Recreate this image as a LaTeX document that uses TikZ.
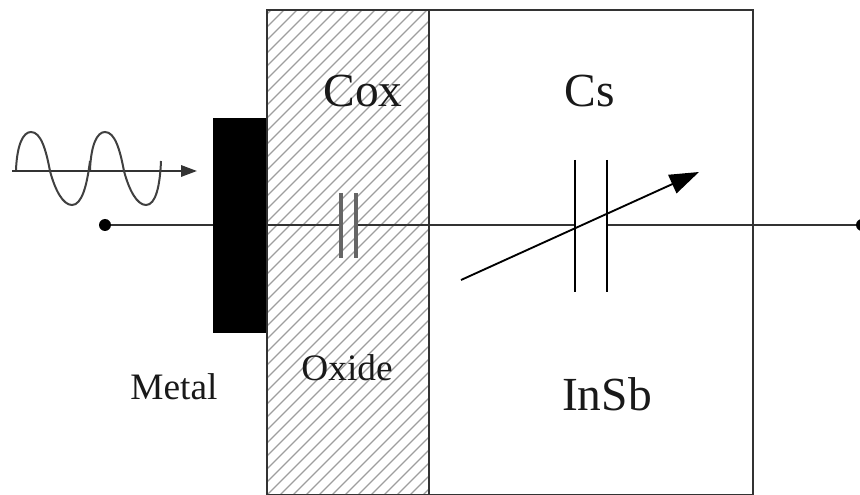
\documentclass[tikz,border=0pt]{standalone}
\usepackage{fontspec}
\setmainfont{Liberation Serif}
\usetikzlibrary{arrows.meta}
\tikzset{
  wire/.style={line width=1.6pt,draw=black!80},
  border/.style={line width=1.4pt,draw=black!80},
  plate/.style={line width=1.3pt,draw=black},
  oxplate/.style={line width=2.8pt,draw=black!60},
  dotn/.style={circle,fill=black,inner sep=0pt,minimum size=9pt},
  big/.style={anchor=base,inner sep=0pt,text=black!90,font=\fontsize{35.6}{40}\selectfont},
  small/.style={anchor=base,inner sep=0pt,text=black!90,font=\fontsize{28}{32}\selectfont},
  hatch/.style={line width=1pt,draw=black!38},
}
\begin{document}
\begin{tikzpicture}[x=0.75pt,y=-0.75pt]
\useasboundingbox (0,0) rectangle (860,495);
% coordinates
\coordinate (tl) at (267,10); \coordinate (tm) at (429,10); \coordinate (tr) at (753,10);
\coordinate (bl) at (267,495); \coordinate (bm) at (429,495); \coordinate (br) at (753,495);
% hatching
\begin{scope}
\clip (tl) rectangle (bm);
\foreach \i in {0,...,56} {
  \draw[hatch] (-250+13*\i,505) -- ++(520,-520);
}
\end{scope}
% terminals
\node[dotn] (dl) at (105,225) {};
\node[dotn] (dr) at (862,225) {};
% capacitor Cox
\coordinate (ca) at (341,225); \coordinate (cb) at (356,225);
\coordinate (sa) at (575,225); \coordinate (sb) at (607,225);
\draw[wire] (dl) -- (ca);
\draw[wire] (cb) -- (sa);
\draw[wire] (sb) -- (dr);
% metal
\fill[black] (213,118) rectangle (267,333);
% boxes
\draw[border] (bl) -- (tl) -- (tr) -- (br);
\draw[border] (tm) -- (bm);
\draw[border,line width=0.9pt] (bl) -- (br);
\draw[oxplate] (341,193) -- (341,258);
\draw[oxplate] (356,193) -- (356,258);
% capacitor Cs
\draw[plate] (575,160) -- (575,292);
\draw[plate] (607,160) -- (607,292);
% variable arrow
\coordinate (va) at (461,280); \coordinate (vb) at (699,172);
\draw[line width=1.4pt,-{Triangle[length=22pt,width=15pt]}] (va) -- (vb);
% wave
\coordinate (wa) at (12,171); \coordinate (wb) at (197,171);
\draw[line width=1.6pt,draw=black!80,-{Triangle[length=12pt,width=8.5pt]}] (wa) -- (wb);
\draw[line width=1.5pt,draw=black!75]
  (16,170) .. controls (17,145) and (23,132) .. (31,132)
  .. controls (41,132) and (46,150) .. (50,171)
  .. controls (55,190) and (63,205) .. (72,205)
  .. controls (82,205) and (87,185) .. (90,161);
\draw[line width=1.5pt,draw=black!75]
  (90,170) .. controls (91,145) and (97,132) .. (105,132)
  .. controls (115,132) and (120,150) .. (124,171)
  .. controls (129,190) and (137,205) .. (146,205)
  .. controls (156,205) and (160,185) .. (161,161);
% labels
\node[big] (cox) at (363,107) {Cox};
\node[big] (cs) at (590,107) {Cs};
\node[big] (insb) at (607,410) {InSb};
\node[small] (ox) at (347,380) {Oxide};
\node[small] (me) at (174,399) {Metal};
\end{tikzpicture}
\end{document}
